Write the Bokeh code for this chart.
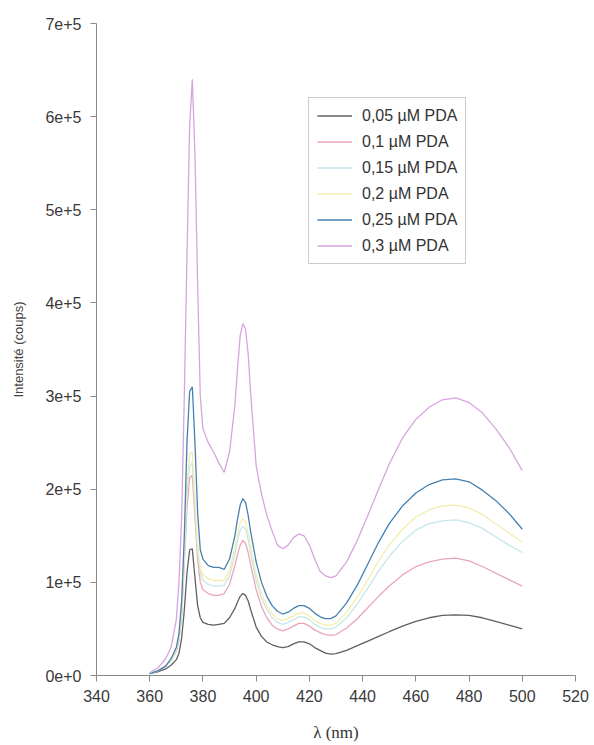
from bokeh.plotting import figure
from bokeh.models import Range1d, FixedTicker, Legend, LegendItem
from bokeh.embed import file_html
from bokeh.resources import INLINE

# ---------------- data ----------------
wavelength = [360, 363, 366, 368, 370, 371, 372, 373, 374, 375, 376, 377, 378, 379, 380,
              382, 384, 386, 388, 390, 392, 393, 394, 395, 396, 397, 398, 400, 402, 404,
              406, 408, 410, 412, 414, 416, 418, 420, 422, 424, 426, 428, 430, 434, 438,
              442, 446, 450, 455, 460, 465, 470, 475, 480, 485, 490, 495, 500]

pda_005 = [2000, 4000, 7000, 11000, 17000, 24000, 40000, 70000, 110000, 135000, 136000, 105000, 75000, 62000, 57000,
           55000, 54000, 55000, 56000, 62000, 72000, 79000, 85000, 88000, 86000, 80000, 70000, 52000, 42000, 36000,
           33000, 31000, 30000, 31000, 34000, 36000, 36000, 34000, 30000, 27000, 24000, 23000, 23500, 27000, 32000,
           37000, 42000, 47000, 53000, 58000, 62000, 64500, 65000, 64500, 62000, 58000, 54000, 50000]

pda_010 = [2000, 5000, 10000, 16000, 26000, 38000, 65000, 120000, 180000, 212000, 215000, 170000, 125000, 100000, 92000,
           88000, 86000, 86000, 88000, 98000, 118000, 130000, 140000, 145000, 142000, 132000, 118000, 92000, 74000, 62000,
           54000, 50000, 48000, 50000, 53000, 56000, 56000, 53000, 49000, 46000, 44000, 43000, 44000, 51000, 61000,
           73000, 85000, 96000, 108000, 117000, 122000, 125000, 126000, 123000, 117000, 110000, 103000, 96000]

pda_015 = [2000, 5000, 10000, 16000, 27000, 40000, 68000, 125000, 195000, 225000, 228000, 180000, 133000, 110000, 102000,
           98000, 96000, 96000, 97000, 107000, 130000, 145000, 156000, 160000, 157000, 146000, 130000, 102000, 83000, 71000,
           62000, 57000, 55000, 57000, 60000, 63000, 63000, 60000, 55000, 52000, 50000, 50000, 52000, 62000, 77000,
           94000, 112000, 128000, 144000, 156000, 163000, 166000, 167000, 164000, 158000, 149000, 140000, 132000]

pda_020 = [2000, 5000, 10000, 17000, 28000, 42000, 72000, 135000, 205000, 238000, 240000, 190000, 140000, 115000, 108000,
           104000, 102000, 102000, 102000, 113000, 137000, 152000, 164000, 168000, 165000, 153000, 137000, 108000, 88000, 75000,
           66000, 61000, 59000, 61000, 64000, 67000, 67000, 64000, 59000, 56000, 54000, 54000, 56000, 68000, 84000,
           103000, 123000, 140000, 157000, 170000, 178000, 182000, 183000, 180000, 173000, 163000, 153000, 143000]

pda_025 = [2000, 5000, 10000, 18000, 30000, 45000, 80000, 150000, 250000, 305000, 310000, 250000, 175000, 135000, 125000,
           118000, 116000, 116000, 114000, 125000, 150000, 168000, 183000, 190000, 186000, 172000, 153000, 122000, 100000, 85000,
           75000, 69000, 66000, 68000, 72000, 75000, 75000, 72000, 67000, 63000, 61000, 61000, 64000, 78000, 97000,
           120000, 143000, 163000, 182000, 196000, 205000, 210000, 211000, 208000, 199000, 188000, 174000, 157000]

pda_030 = [3000, 8000, 18000, 30000, 60000, 100000, 170000, 300000, 450000, 590000, 640000, 560000, 420000, 300000, 265000,
           250000, 240000, 228000, 218000, 240000, 290000, 330000, 365000, 378000, 372000, 345000, 300000, 225000, 195000, 172000,
           155000, 140000, 136000, 140000, 148000, 152000, 150000, 140000, 125000, 112000, 107000, 105000, 107000, 122000, 145000,
           172000, 200000, 227000, 255000, 275000, 288000, 296000, 298000, 293000, 282000, 265000, 245000, 220000]

series_labels = ["0,05 µM PDA", "0,1 µM PDA", "0,15 µM PDA", "0,2 µM PDA", "0,25 µM PDA", "0,3 µM PDA"]
series_values = [pda_005, pda_010, pda_015, pda_020, pda_025, pda_030]

x_tick_values = [340, 360, 380, 400, 420, 440, 460, 480, 500, 520]
y_tick_values = [0, 100000, 200000, 300000, 400000, 500000, 600000, 700000]
y_tick_labels = ["0e+0", "1e+5", "2e+5", "3e+5", "4e+5", "5e+5", "6e+5", "7e+5"]

# ---------------- styles ----------------
colors = ["#606060", "#eaa6b6", "#c6e6ea", "#f3eeae", "#4580b0", "#d8a4df"]

p = figure(width=594, height=745, output_backend="svg", toolbar_location=None,
           x_range=Range1d(340, 520), y_range=Range1d(0, 700000),
           min_border_left=96, min_border_right=19, min_border_top=23, min_border_bottom=70)
p.outline_line_color = None
p.xgrid.visible = False
p.ygrid.visible = False
p.background_fill_color = "white"
p.border_fill_color = "white"

renderers = []
for vals, c in zip(series_values, colors):
    r = p.line(wavelength, vals, line_color=c, line_width=1.3)
    renderers.append(r)

for ax in (p.xaxis[0], p.yaxis[0]):
    ax.axis_line_color = "#8a8a8a"
    ax.major_tick_line_color = "#8a8a8a"
    ax.minor_tick_line_color = None
    ax.major_tick_out = 6
    ax.major_tick_in = 0
    ax.major_label_text_font = "Liberation Sans"
    ax.major_label_text_font_size = "16px"
    ax.major_label_text_color = "#3a3a3a"

p.xaxis.ticker = FixedTicker(ticks=x_tick_values)
p.yaxis.ticker = FixedTicker(ticks=y_tick_values)
p.yaxis.major_label_overrides = {v: s for v, s in zip(y_tick_values, y_tick_labels)}
p.xaxis.major_label_standoff = 8
p.yaxis.major_label_standoff = 9

p.xaxis.axis_label = "λ (nm)"
p.xaxis.axis_label_text_font = "Liberation Serif"
p.xaxis.axis_label_text_font_style = "normal"
p.xaxis.axis_label_text_font_size = "17px"
p.xaxis.axis_label_text_color = "#333333"
p.xaxis.axis_label_standoff = 18

p.yaxis.axis_label = "Intensité (coups)"
p.yaxis.axis_label_text_font = "Liberation Sans"
p.yaxis.axis_label_text_font_style = "normal"
p.yaxis.axis_label_text_font_size = "13px"
p.yaxis.axis_label_text_color = "#444444"
p.yaxis.axis_label_standoff = 16

legend = Legend(items=[LegendItem(label=l, renderers=[r]) for l, r in zip(series_labels, renderers)],
                location=(212, 411))
legend.border_line_color = "#999999"
legend.border_line_width = 1
legend.background_fill_color = "white"
legend.background_fill_alpha = 1.0
legend.padding = 8
legend.spacing = 7
legend.margin = 0
legend.glyph_width = 35
legend.glyph_height = 19
legend.label_height = 19
legend.label_standoff = 10
legend.label_text_font = "Liberation Sans"
legend.label_text_font_size = "16px"
legend.label_text_color = "#333333"
p.add_layout(legend)

open("out.html", "w").write(file_html(p, INLINE))
